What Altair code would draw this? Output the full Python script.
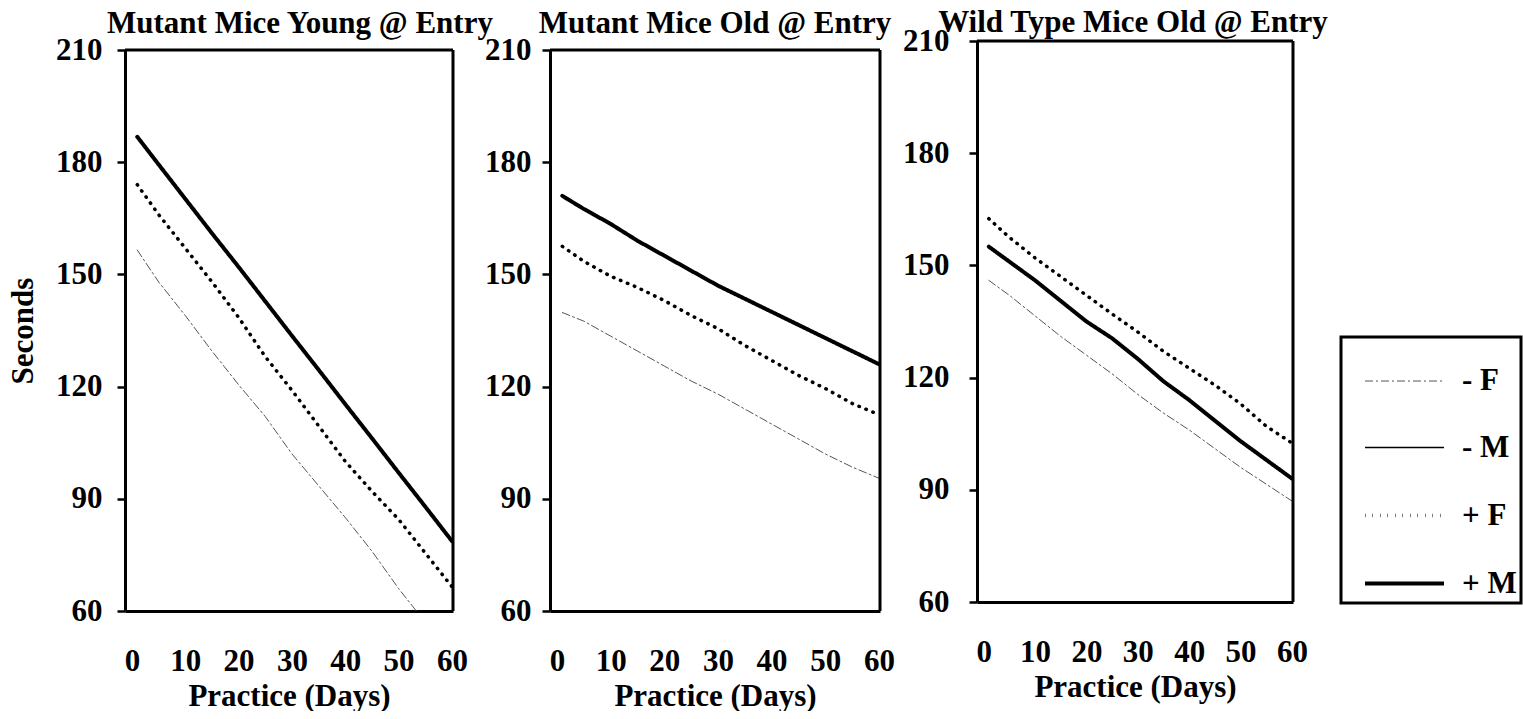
import altair as alt
import pandas as pd

# ---------------- data ----------------
series_names = ["- F", "- M", "+ F", "+ M"]
panel_titles = ["Mutant Mice Young @ Entry", "Mutant Mice Old @ Entry", "Wild Type Mice Old @ Entry"]
days = [1, 5, 10, 15, 20, 25, 30, 35, 40, 45, 50, 55, 60]

p1_minus_f = [156.5, 148, 139, 129.5, 120.5, 112, 102, 93.5, 85, 76, 66, 57, 47]
p1_plus_f = [174, 166, 157, 148, 138.5, 128, 119, 109.5, 100, 92, 84.5, 75.5, 66.5]
p1_plus_m = [186.8, 179.4, 170.2, 161, 152, 142.8, 133.6, 124.5, 115.3, 106.2, 97, 87.9, 78.7]

p2_minus_f = [139.8, 137.5, 133.5, 129.5, 125.5, 121.5, 118, 114, 110, 106, 102, 98.5, 95.5]
p2_plus_f = [157.5, 153.5, 149.5, 146.5, 143, 139, 135.5, 131, 127, 123, 119.5, 115.5, 112.5]
p2_plus_m = [171, 167.5, 163.5, 159, 155, 151, 147, 143.5, 140, 136.5, 133, 129.5, 126]

p3_minus_f = [146, 142, 136.5, 131, 126, 121, 115.5, 110.5, 106, 101, 96, 91.5, 87]
p3_plus_f = [162.5, 157.5, 152, 147, 142, 137, 132.2, 127, 122.5, 118, 113, 107, 102.5]
p3_plus_m = [155, 151, 146, 140.5, 135, 130.5, 125, 119, 114, 108.5, 103, 98, 93]

y_ticks = [60, 90, 120, 150, 180, 210]
x_ticks = [0, 10, 20, 30, 40, 50, 60]
x_domain = [-1.3, 60.2]
y_domain = [60, 210]

# ---------------- styles ----------------
FONT = "Liberation Serif"
FS = 31
line_colors = ["#555555", "black", "black", "black"]
line_dashes = [[8, 3, 2, 3], [1, 0], [0.5, 7], [1, 0]]
line_widths = [1, 1.5, 3.5, 4]


def make_df(series_dict):
    rows = []
    for name, vals in series_dict.items():
        for d, v in zip(days, vals):
            rows.append({"series": name, "day": d, "seconds": v})
    return pd.DataFrame(rows)


frame_df = pd.DataFrame({"x0": [x_domain[0]], "x1": [x_domain[1]],
                         "y0": [y_domain[0]], "y1": [y_domain[1]]})


def panel(df, title, title_dx, title_offset, width, height, yrange, show_ytitle, ylabpad):
    xscale = alt.Scale(domain=x_domain, nice=False, zero=False)
    yscale = alt.Scale(domain=y_domain, range=yrange, nice=False, zero=False)
    xaxis = alt.Axis(values=x_ticks, ticks=False, labelPadding=35, grid=False,
                     domainWidth=3, domainColor="black", titlePadding=5,
                     labelFlush=False)
    yaxis = alt.Axis(values=y_ticks, tickSize=8, tickWidth=2.5, tickColor="black",
                     labelPadding=ylabpad, grid=False, domainWidth=3, domainColor="black",
                     titlePadding=16, labelFlush=False)
    ytitle = "Seconds" if show_ytitle else None
    lines = alt.Chart(df).mark_line(clip=True, strokeCap="round").encode(
        x=alt.X("day:Q", scale=xscale, axis=xaxis, title="Practice (Days)"),
        y=alt.Y("seconds:Q", scale=yscale, axis=yaxis, title=ytitle),
        color=alt.Color("series:N", sort=series_names,
                        scale=alt.Scale(domain=series_names, range=line_colors), title=None),
        strokeDash=alt.StrokeDash("series:N", sort=series_names,
                                  scale=alt.Scale(domain=series_names, range=line_dashes), title=None),
        strokeWidth=alt.StrokeWidth("series:N", sort=series_names,
                                    scale=alt.Scale(type="ordinal", domain=series_names, range=line_widths),
                                    title=None),
    )
    top_rule = alt.Chart(frame_df).mark_rule(color="black", strokeWidth=3).encode(
        x=alt.X("x0:Q", title="Practice (Days)"), x2="x1",
        y=alt.Y("y1:Q", title=ytitle),
    )
    right_rule = alt.Chart(frame_df).mark_rule(color="black", strokeWidth=3).encode(
        x=alt.X("x1:Q", title="Practice (Days)"),
        y=alt.Y("y0:Q", title=ytitle), y2="y1",
    )
    return alt.layer(lines, top_rule, right_rule).properties(
        width=width, height=height,
        title=alt.TitleParams(title, dx=title_dx, offset=title_offset, frame="group"),
    )


df1 = make_df({"- F": p1_minus_f, "+ F": p1_plus_f, "+ M": p1_plus_m})
df2 = make_df({"- F": p2_minus_f, "+ F": p2_plus_f, "+ M": p2_plus_m})
df3 = make_df({"- F": p3_minus_f, "+ F": p3_plus_f, "+ M": p3_plus_m})

c1 = panel(df1, panel_titles[0], 11, -6, 328, 570, [570, 9], True, 15)
c2 = panel(df2, panel_titles[1], 0, -6, 330, 570, [570, 9], False, 11)
c3 = panel(df3, panel_titles[2], -2, -14, 316, 561, [561, 0], False, 20)

chart = alt.hconcat(c1, c2, c3, spacing=97, bounds="flush").properties(
    padding={"left": 7, "top": 7, "right": 0, "bottom": 0},
).configure_view(
    strokeWidth=0
).configure_axis(
    labelFont=FONT, labelFontSize=FS, labelFontWeight="bold", labelColor="black",
    titleFont=FONT, titleFontSize=FS, titleFontWeight="bold", titleColor="black",
).configure_title(
    font=FONT, fontSize=FS, fontWeight="bold", color="black",
    anchor="middle", baseline="alphabetic",
).configure_legend(
    orient="none", legendX=1216, legendY=296,
    strokeColor="black", strokeWidth=3, padding=4,
    labelFont=FONT, labelFontSize=FS, labelFontWeight="bold", labelColor="black",
    symbolType="stroke", symbolSize=6241, rowPadding=11, labelOffset=16,
    symbolOffset=18,
)

chart.save("out.html", embed_options={"renderer": "svg", "actions": False})
